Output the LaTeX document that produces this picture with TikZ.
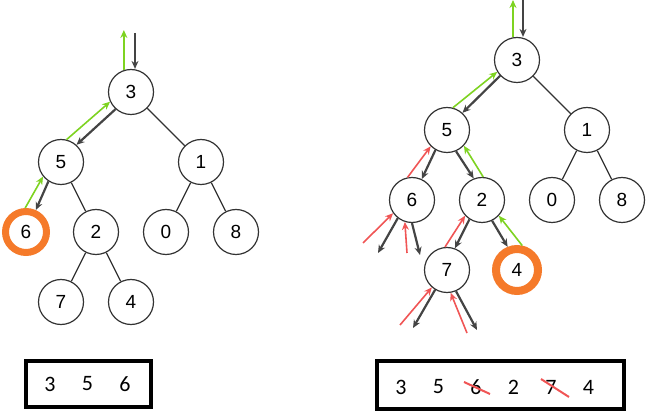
\documentclass[tikz,border=0pt]{standalone}
\usepackage{fontspec}
\setmainfont{Liberation Sans}
\newfontfamily\listfont{Carlito}
\usetikzlibrary{arrows.meta}
\definecolor{upgreen}{RGB}{126,211,33}
\definecolor{failred}{RGB}{240,85,85}
\definecolor{walkgray}{RGB}{68,68,68}
\definecolor{hitorange}{RGB}{245,122,42}
\tikzstyle{vertex} = [circle, minimum size=45pt, inner sep=0pt, draw=black!80, line width=1.2pt, font=\fontsize{19}{19}\selectfont]
\tikzstyle{found} = [vertex, draw=hitorange, line width=7pt, minimum size=41pt]
\tikzstyle{edge} = [black!80, line width=1.2pt]
\tikzstyle{down} = [walkgray, line width=2.2pt, -{Stealth[length=8pt,width=7pt]}]
\tikzstyle{up} = [upgreen, line width=1.6pt, -{Stealth[length=8pt,width=7pt]}]
\tikzstyle{fail} = [failred, line width=1.6pt, -{Stealth[length=8pt,width=7pt]}]
\tikzstyle{listbox} = [rectangle, draw=black, line width=4pt, inner sep=0pt]
\tikzstyle{entry} = [inner sep=0pt, font=\listfont\fontsize{22}{22}\selectfont]
\tikzstyle{strike} = [failred, line width=2pt]

\begin{document}
\begin{tikzpicture}[x=1pt, y=1pt, node distance=70pt]
	\useasboundingbox (0,0) rectangle (650,415);

		% Draw the nodes (left tree)
		\node (l3) [vertex] at (131,323) {3};
		\node (l5) [vertex, below of=l3, xshift=-70] {5};
		\node (l1) [vertex, below of=l3, xshift=70] {1};
		\node (l6) [found, below of=l5, xshift=-35] {6};
		\node (l2) [vertex, below of=l5, xshift=35] {2};
		\node (l0) [vertex, below of=l1, xshift=-35] {0};
		\node (l8) [vertex, below of=l1, xshift=35] {8};
		\node (l7) [vertex, below of=l2, xshift=-35] {7};
		\node (l4) [vertex, below of=l2, xshift=35] {4};
		\coordinate (lin) at (135,382);
		\coordinate (lout) at (124,385);

		% Draw the nodes (right tree)
		\node (r3) [vertex] at (517,355) {3};
		\node (r5) [vertex, below of=r3, xshift=-70] {5};
		\node (r1) [vertex, below of=r3, xshift=70] {1};
		\node (r6) [vertex, below of=r5, xshift=-35] {6};
		\node (r2) [vertex, below of=r5, xshift=35] {2};
		\node (r0) [vertex, below of=r1, xshift=-35] {0};
		\node (r8) [vertex, below of=r1, xshift=35] {8};
		\node (r7) [vertex, below of=r2, xshift=-35] {7};
		\node (r4) [found, below of=r2, xshift=35, line width=8pt, minimum size=42pt] {4};
		\coordinate (rin) at (523,415);
		\coordinate (rout) at (513,415);
		% empty children
		\coordinate (r6a) at (363,172);
		\coordinate (r6b) at (378,162);
		\coordinate (r6c) at (407,162);
		\coordinate (r6d) at (420,160);
		\coordinate (r7a) at (400,90);
		\coordinate (r7b) at (413,87);
		\coordinate (r7c) at (467,82);
		\coordinate (r7d) at (477,85);

		% Draw the paths
		\node (lpath) [listbox, minimum width=125pt, minimum height=46pt] at (88.5,31) {};
		\node (lp3) [entry] at (50,31) {3};
		\node (lp5) [entry, node distance=37.5pt, right of=lp3] {5};
		\node (lp6) [entry, node distance=37.5pt, right of=lp5] {6};
		\node (rpath) [listbox, minimum width=247pt, minimum height=48pt] at (500.5,30) {};
		\node (rp3) [entry] at (401,28) {3};
		\node (rp5) [entry, node distance=37.5pt, right of=rp3] {5};
		\node (rp6) [entry, node distance=37.5pt, right of=rp5] {6};
		\node (rp2) [entry, node distance=37.5pt, right of=rp6] {2};
		\node (rp7) [entry, node distance=37.5pt, right of=rp2] {7};
		\node (rp4) [entry, node distance=37.5pt, right of=rp7] {4};
		\draw [strike] ([shift={(-12,5)}]rp6.center) -- ([shift={(14,-7)}]rp6.center);
		\draw [strike] ([shift={(-10,8)}]rp7.center) -- ([shift={(18,-10)}]rp7.center);

		%Draw the edges
		\draw [edge] (l3) -- (l1);
		\draw [edge] (l5) -- (l2);
		\draw [edge] (l1) -- (l0);
		\draw [edge] (l1) -- (l8);
		\draw [edge] (l2) -- (l7);
		\draw [edge] (l2) -- (l4);
		\draw [edge] (r3) -- (r1);
		\draw [edge] (r1) -- (r0);
		\draw [edge] (r1) -- (r8);

		%Draw the arrows (left)
		\draw [up] (l3.108) -- (l3.108 |- lout);
		\draw [down] (lin) -- (lin |- l3.north);
		\draw [up] (l5.76) -- (l3.205);
		\draw [down] (l3.228) -- (l5.48);
		\draw [up] (l6.92) -- (l5.219);
		\draw [down] (l5.237) -- (l6.66);

		%Draw the arrows (right)
		\draw [up] (r3.100) -- (r3.100 |- rout);
		\draw [down] (rin) -- (rin |- r3.north);
		\draw [up] (r5.75) -- (r3.211);
		\draw [down] (r3.223) -- (r5.48);
		\draw [fail] (r6.101) -- (r5.225);
		\draw [down] (r5.240) -- (r6.65);
		\draw [down] (r5.293) -- (r2.111);
		\draw [up] (r2.87) -- (r5.317);
		\draw [fail] (r6a) -- (r6.215);
		\draw [down] (r6.232) -- (r6b);
		\draw [fail] (r6c) -- (r6.252);
		\draw [down] (r6.270) -- (r6d);
		\draw [fail] (r7.95) -- (r2.223);
		\draw [down] (r2.237) -- (r7.70);
		\draw [down] (r2.296) -- (r4.112);
		\draw [up] (r4.78) -- (r2.317);
		\draw [fail] (r7a) -- (r7.229);
		\draw [down] (r7.239) -- (r7b);
		\draw [fail] (r7c) -- (r7.279);
		\draw [down] (r7.293) -- (r7d);

	\end{tikzpicture}
\end{document}
